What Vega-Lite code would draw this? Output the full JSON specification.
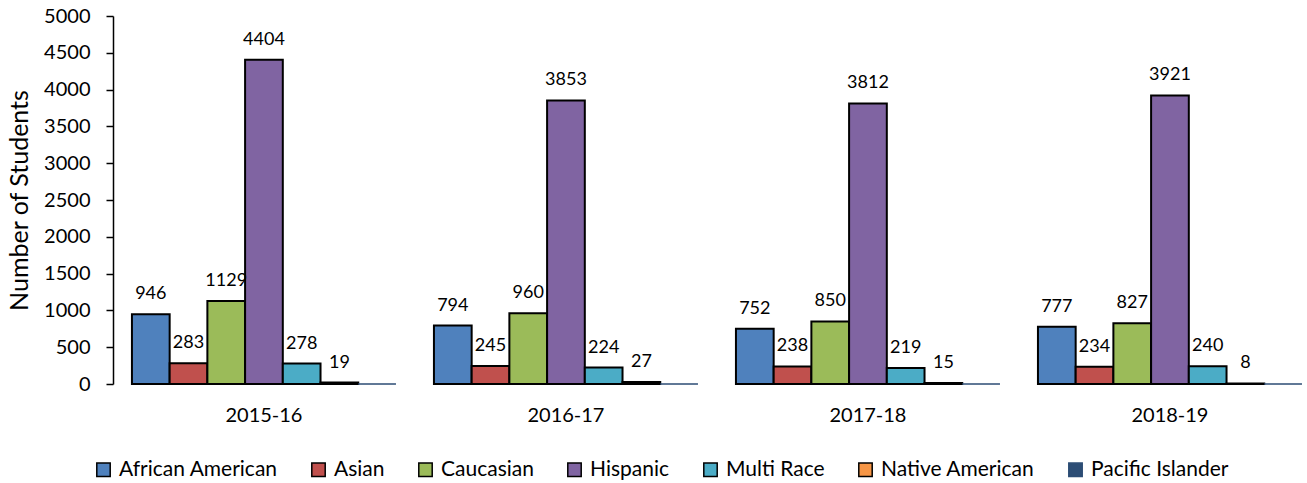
{
  "$schema": "https://vega.github.io/schema/vega-lite/v6.json",
  "width": 1194,
  "height": 368,
  "autosize": "none",
  "padding": {"left": 113, "top": 16, "right": 0, "bottom": 99},
  "config": {"view": {"stroke": null}, "font": "Lato"},
  "data": {"values": [
    {"year": "2015-16", "race": "African American", "count": 946},
    {"year": "2015-16", "race": "Asian", "count": 283},
    {"year": "2015-16", "race": "Caucasian", "count": 1129},
    {"year": "2015-16", "race": "Hispanic", "count": 4404},
    {"year": "2015-16", "race": "Multi Race", "count": 278},
    {"year": "2015-16", "race": "Native American", "count": 19},
    {"year": "2015-16", "race": "Pacific Islander", "count": 0},
    {"year": "2016-17", "race": "African American", "count": 794},
    {"year": "2016-17", "race": "Asian", "count": 245},
    {"year": "2016-17", "race": "Caucasian", "count": 960},
    {"year": "2016-17", "race": "Hispanic", "count": 3853},
    {"year": "2016-17", "race": "Multi Race", "count": 224},
    {"year": "2016-17", "race": "Native American", "count": 27},
    {"year": "2016-17", "race": "Pacific Islander", "count": 0},
    {"year": "2017-18", "race": "African American", "count": 752},
    {"year": "2017-18", "race": "Asian", "count": 238},
    {"year": "2017-18", "race": "Caucasian", "count": 850},
    {"year": "2017-18", "race": "Hispanic", "count": 3812},
    {"year": "2017-18", "race": "Multi Race", "count": 219},
    {"year": "2017-18", "race": "Native American", "count": 15},
    {"year": "2017-18", "race": "Pacific Islander", "count": 0},
    {"year": "2018-19", "race": "African American", "count": 777},
    {"year": "2018-19", "race": "Asian", "count": 234},
    {"year": "2018-19", "race": "Caucasian", "count": 827},
    {"year": "2018-19", "race": "Hispanic", "count": 3921},
    {"year": "2018-19", "race": "Multi Race", "count": 240},
    {"year": "2018-19", "race": "Native American", "count": 8},
    {"year": "2018-19", "race": "Pacific Islander", "count": 0}
  ]},
  "encoding": {
    "x": {
      "field": "year", "type": "nominal",
      "scale": {"paddingInner": 0.1258, "paddingOuter": 0.0397, "align": 0.79},
      "axis": {"title": null, "labelAngle": 0, "domain": false, "ticks": false, "labelPadding": 21, "labelFontSize": 20, "labelColor": "black"}
    },
    "xOffset": {
      "field": "race", "type": "nominal",
      "sort": ["African American", "Asian", "Caucasian", "Hispanic", "Multi Race", "Native American", "Pacific Islander"],
      "scale": {"paddingInner": 0, "paddingOuter": 0}
    },
    "y": {
      "field": "count", "type": "quantitative",
      "scale": {"domain": [0, 5000]},
      "axis": {
        "title": "Number of Students", "titleFontSize": 25, "titleFontWeight": "normal", "titleColor": "black", "titlePadding": 11,
        "values": [0, 500, 1000, 1500, 2000, 2500, 3000, 3500, 4000, 4500, 5000], "format": "d",
        "grid": false, "domainColor": "black", "domainWidth": 1.5, "tickColor": "black", "tickWidth": 1.5, "tickSize": 7,
        "labelFontSize": 20, "labelColor": "black", "labelPadding": 16
      }
    }
  },
  "layer": [
    {
      "mark": {"type": "bar"},
      "encoding": {
        "strokeWidth": {"condition": {"test": "datum.race == 'Pacific Islander'", "value": 1}, "value": 2},
        "fill": {
          "field": "race", "type": "nominal",
          "scale": {
            "domain": ["African American", "Asian", "Caucasian", "Hispanic", "Multi Race", "Native American", "Pacific Islander"],
            "range": ["#4F81BD", "#C0504D", "#9BBB59", "#8064A2", "#4BACC6", "#F79646", "#2C4D75"]
          },
          "legend": {
            "title": null, "orient": "none", "legendX": -20, "legendY": 443, "direction": "horizontal",
            "symbolType": "square", "symbolSize": 180, "symbolStrokeWidth": 1.5, "symbolOpacity": 1,
            "labelFontSize": 21, "labelLimit": 400, "labelColor": "black", "columnPadding": 30, "labelOffset": 5
          }
        },
        "stroke": {
          "field": "race", "type": "nominal",
          "scale": {
            "domain": ["African American", "Asian", "Caucasian", "Hispanic", "Multi Race", "Native American", "Pacific Islander"],
            "range": ["#000000", "#000000", "#000000", "#000000", "#000000", "#000000", "#2C4D75"]
          },
          "legend": {
            "title": null, "orient": "none", "legendX": -20, "legendY": 443, "direction": "horizontal",
            "symbolType": "square", "symbolSize": 180, "symbolStrokeWidth": 1.5, "symbolOpacity": 1,
            "labelFontSize": 21, "labelLimit": 400, "labelColor": "black", "columnPadding": 30, "labelOffset": 5
          }
        }
      }
    },
    {
      "transform": [{"filter": "datum.race != 'Pacific Islander'"}],
      "mark": {"type": "text", "baseline": "alphabetic", "dy": -15, "fontSize": 18, "color": "black"},
      "encoding": {"text": {"field": "count", "type": "quantitative"}}
    }
  ]
}
